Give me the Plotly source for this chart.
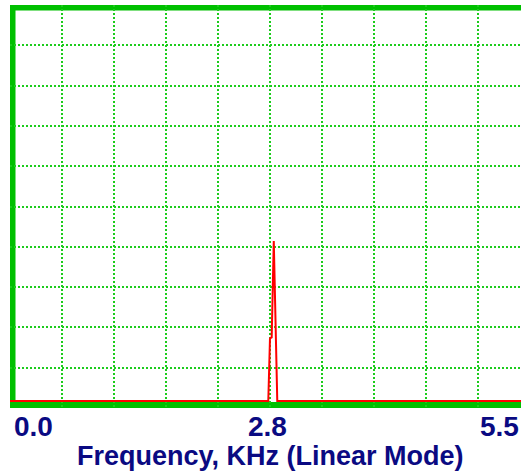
import plotly.graph_objects as go

# Data (frequency in kHz, amplitude in grid divisions)
freq = [0.0, 2.732, 2.750, 2.768, 2.790, 2.827, 5.5]
amp = [0.174, 0.174, 1.73, 1.754, 4.144, 0.174, 0.174]

tick_labels = ["0.0", "2.8", "5.5"]
x_title = "Frequency, KHz (Linear Mode)"

GREEN = "#00c000"
GRID = "#1ccc1c"
NAVY = "#0a0a82"
FONT = "Liberation Sans, Arial, sans-serif"

fig = go.Figure()
fig.add_trace(go.Scatter(x=freq, y=amp, mode="lines",
                         line=dict(color="#ff0000", width=2),
                         hoverinfo="skip", showlegend=False))

axis_common = dict(showticklabels=False, ticks="", zeroline=False, showline=False,
                   showgrid=True, gridcolor=GRID, gridwidth=1.5, griddash="2px,2px",
                   fixedrange=True)
fig.update_xaxes(range=[0, 5.405], tick0=0, dtick=0.55, **axis_common)
fig.update_yaxes(range=[0, 10], tick0=0, dtick=1, **axis_common)

# thick green borders (left, top, bottom)
fig.add_shape(type="rect", xref="x domain", yref="y domain", xsizemode="pixel",
              xanchor=0, x0=0, x1=5.5, y0=0, y1=1, fillcolor=GREEN,
              line=dict(width=0), layer="below")
fig.add_shape(type="rect", xref="x domain", yref="y domain", ysizemode="pixel",
              yanchor=1, y0=-5.5, y1=0, x0=0, x1=1, fillcolor=GREEN,
              line=dict(width=0), layer="below")
fig.add_shape(type="rect", xref="x domain", yref="y domain", ysizemode="pixel",
              yanchor=0, y0=0, y1=6, x0=0, x1=1, fillcolor=GREEN,
              line=dict(width=0), layer="below")

tick_font = dict(family=FONT, size=28, color=NAVY, weight="bold")
fig.add_annotation(x=0, y=-0.046, xref="x domain", yref="paper", text=tick_labels[0],
                   xanchor="left", yanchor="middle", showarrow=False, font=tick_font, xshift=2)
fig.add_annotation(x=2.8, y=-0.046, xref="x", yref="paper", text=tick_labels[1],
                   xanchor="center", yanchor="middle", showarrow=False, font=tick_font, xshift=-7)
fig.add_annotation(x=1, y=-0.046, xref="x domain", yref="paper", text=tick_labels[2],
                   xanchor="right", yanchor="middle", showarrow=False, font=tick_font, xshift=0)
fig.add_annotation(x=0.5, y=-0.12, xref="paper", yref="paper", text=x_title,
                   xanchor="center", yanchor="middle", showarrow=False,
                   font=dict(family=FONT, size=27, color=NAVY, weight="bold"), xshift=5)

fig.update_layout(width=521, height=474, margin=dict(l=10, r=0, t=5, b=66),
                  paper_bgcolor="white", plot_bgcolor="white")

fig.write_html("out.html", config={"displayModeBar": False},
               post_script="document.body.style.margin='0';document.body.style.overflow='hidden';")
